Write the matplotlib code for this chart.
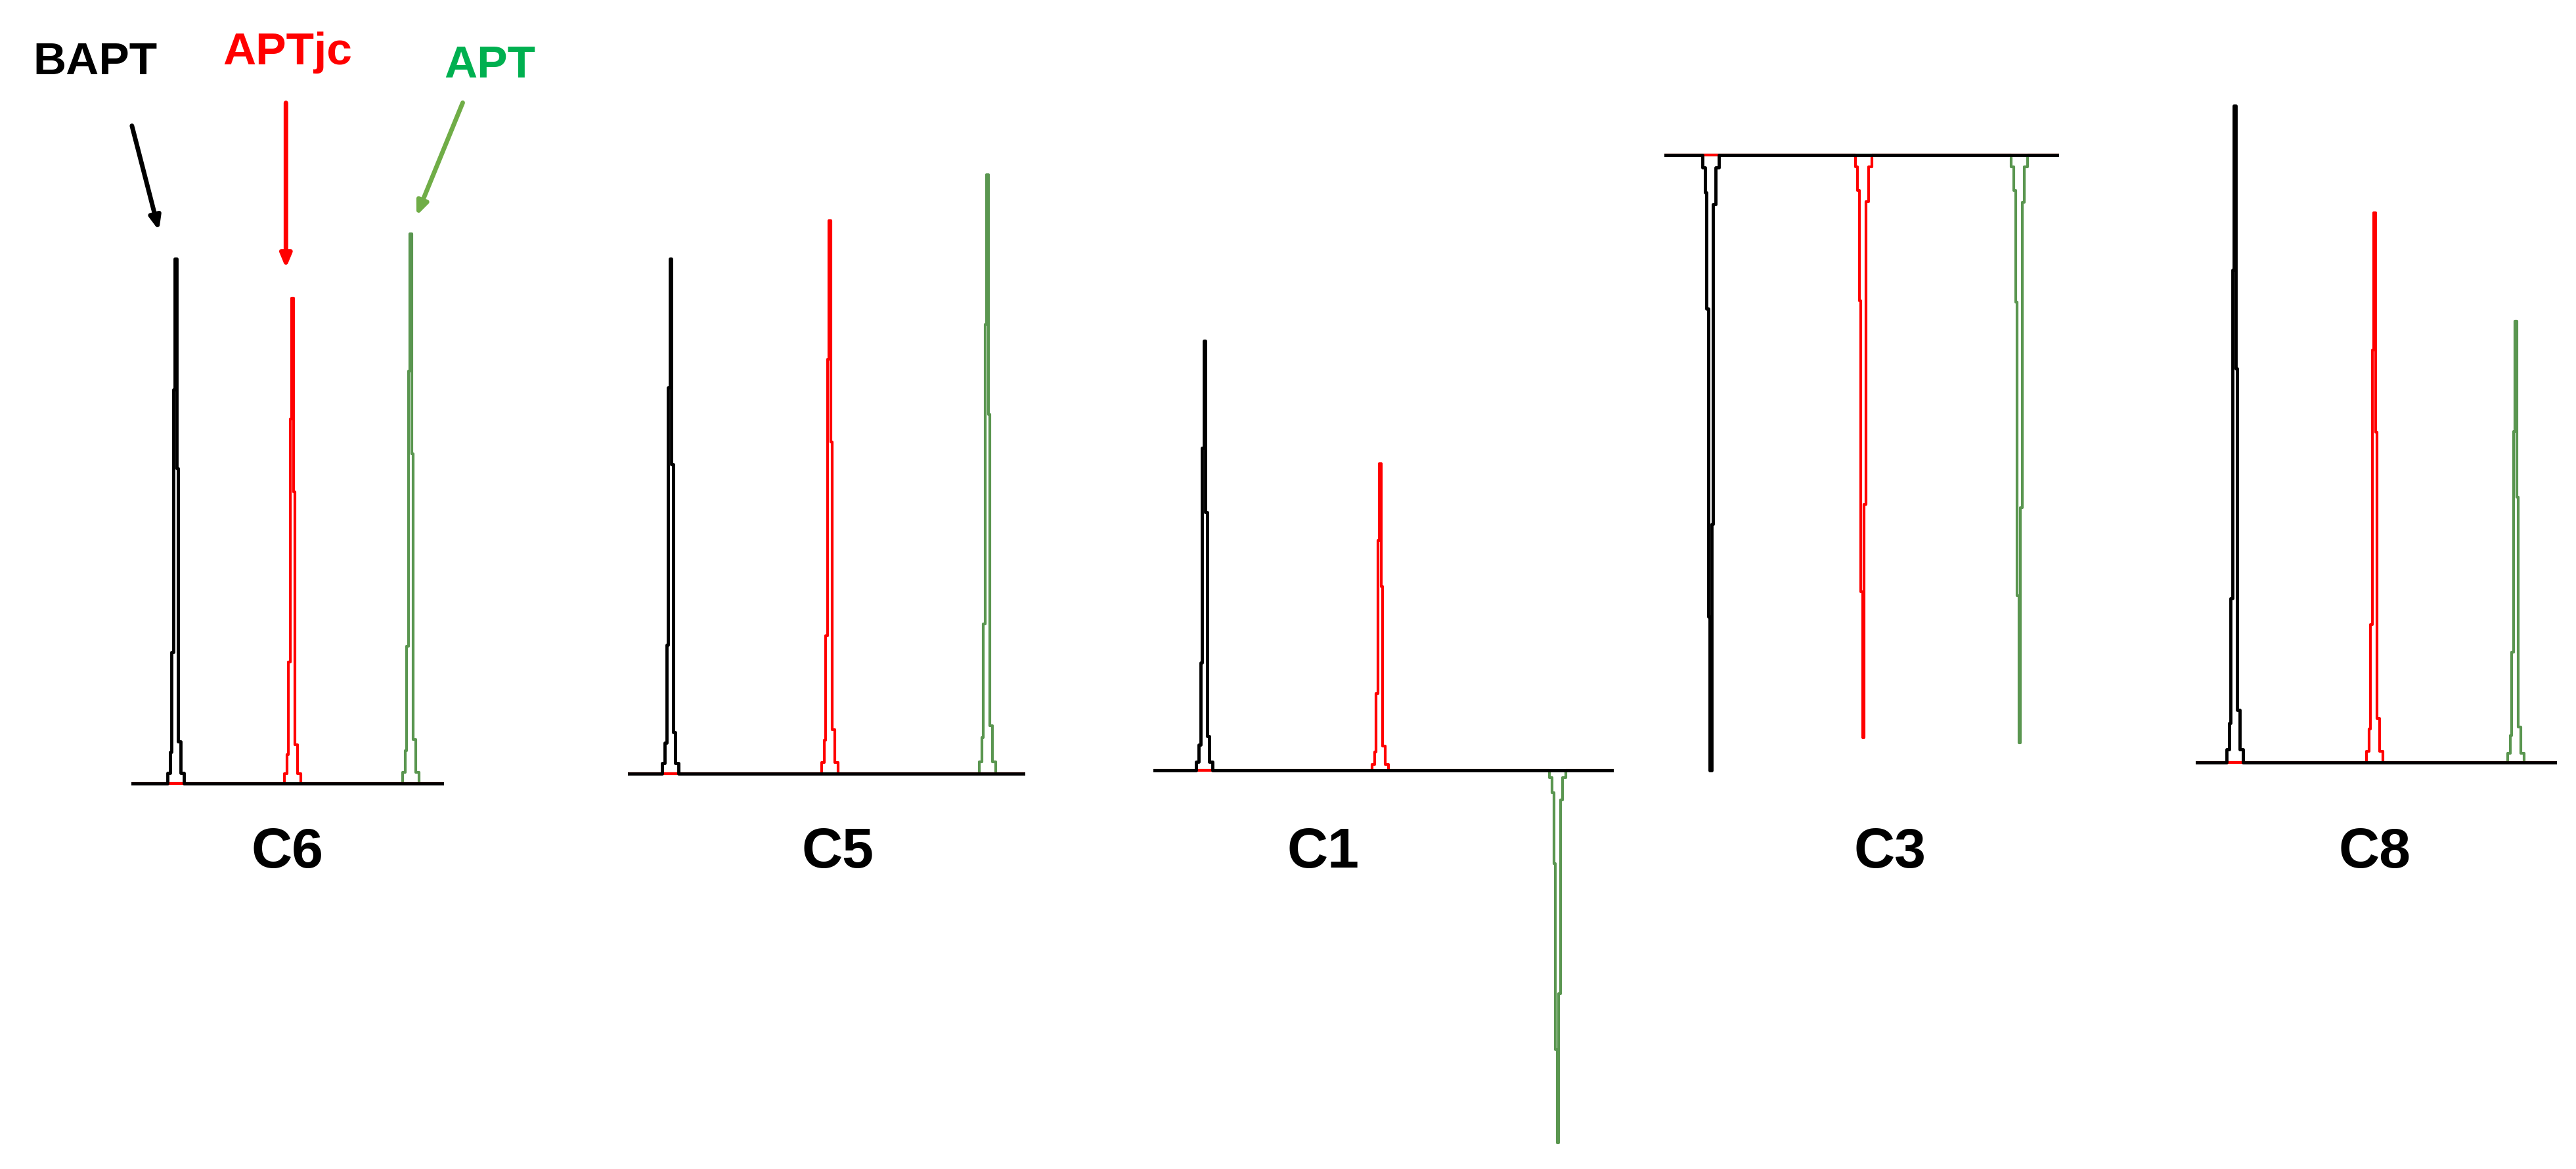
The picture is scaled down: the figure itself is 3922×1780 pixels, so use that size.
import matplotlib
matplotlib.use("Agg")
import matplotlib.pyplot as plt
import numpy as np

W, H = 1568, 713  # layout reference units
panels = ["C6", "C5", "C1", "C3", "C8"]
panel_x = [(80, 270), (382, 624), (702, 982), (1013, 1253), (1336, 1556)]
baseline_y = [478, 472, 470, 95, 465]
label_x = [175, 510, 805, 1150, 1445]
series = ["BAPT", "APTjc", "APT"]
colors = ["#000000", "#ff0000", "#5a9650"]
peak_pos = {  # peak x positions
    "C6": [107, 178, 250], "C5": [408, 505, 601], "C1": [733, 840, 948],
    "C3": [1041, 1134, 1229], "C8": [1360, 1445, 1531]}
peak_height = {  # signed intensities
    "C6": [320, 296, 335], "C5": [314, 337, 365], "C1": [262, 187, -227],
    "C3": [-375, -355, -358], "C8": [400, 335, 269]}
shape_dx = [-6, -4, -3, -2, -1, 0, 1, 2, 4, 6]
shape_f = [0, 0.02, 0.06, 0.25, 0.75, 1.0, 0.6, 0.08, 0.02, 0]

fig = plt.figure(figsize=(39.23, 17.81), dpi=100)
for p, (x0, x1), by, lx in zip(panels, panel_x, baseline_y, label_x):
    ax = fig.add_axes([x0 / W, 0, (x1 - x0) / W, 1])
    ax.set_xlim(x0, x1)
    ax.set_ylim(by - H, by)
    ax.axis("off")
    for i, (c, px, h) in enumerate(zip(colors, peak_pos[p], peak_height[p])):
        xs = [x0] + [px + d for d in shape_dx] + [x1]
        ys = [0] + [h * f for f in shape_f] + [0]
        ax.step(xs, ys, where="mid", color=c, lw=3.5 if i == 0 else 3, zorder=3 - i)
    fig.text(lx / W, 1 - 520 / H, p, ha="center", va="center", fontsize=62,
             fontweight="bold", family="Liberation Sans")

ov = fig.add_axes([0, 0, 1, 1])
ov.set_xlim(0, W); ov.set_ylim(H, 0); ov.axis("off")
lab_pos = [(58, 38), (175, 32), (298, 40)]
lab_col = ["#000000", "#ff0000", "#00b050"]
arrows = [((80, 76), (97, 142)), ((174, 62), (174, 165)), ((282, 62), (253, 133))]
arr_col = ["#000000", "#ff0000", "#70ad47"]
for s, (tx, ty), c, (a, b), ac in zip(series, lab_pos, lab_col, arrows, arr_col):
    ov.text(tx, ty, s, ha="center", va="center", fontsize=50, fontweight="bold",
            color=c, family="Liberation Sans")
    ov.annotate("", xy=b, xytext=a,
                arrowprops=dict(arrowstyle="-|>,head_length=1.2,head_width=0.5",
                                color=ac, lw=5))
fig.savefig("out.png", dpi=100)
